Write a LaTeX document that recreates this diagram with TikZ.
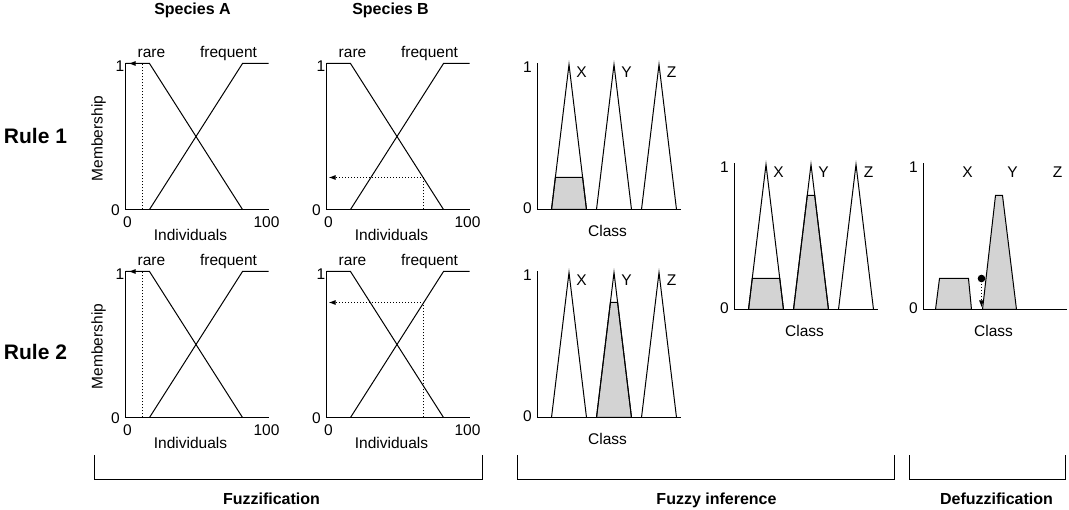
\documentclass[tikz,border=0pt]{standalone}
\usepackage{fontspec}
\setmainfont{Liberation Sans}
\usetikzlibrary{arrows.meta}
\definecolor{shadegray}{RGB}{211,211,211}
\tikzset{
  lbl/.style={inner sep=0pt, anchor=base, font=\fontsize{15.5}{18}\selectfont},
  title/.style={inner sep=0pt, anchor=base, font=\fontsize{16}{19}\selectfont\bfseries},
  rulelbl/.style={inner sep=0pt, anchor=base, font=\fontsize{21}{24}\selectfont\bfseries},
  axisline/.style={line width=1.2pt, line join=miter},
  curve/.style={line width=1pt, line join=miter},
  dotline/.style={line width=1pt, dash pattern=on 1pt off 2pt},
  tip/.style={-{Latex[length=7pt,width=5pt]}},
  shaded/.style={fill=shadegray, draw=black, line width=1pt, line join=miter},
  bracket/.style={line width=1.2pt, line join=miter},
  fuzz/.pic={
    \draw[axisline] (0,0) coordinate (-top) -- (0,146) coordinate (-orig) -- (143,146) coordinate (-end);
    \draw[curve] (0,0) -- (24,0) -- (117,146);
    \draw[curve] (24,146) -- (117,0) -- (143,0);
    \node[lbl] (-one) at (-5.5,8) {1};
    \node[lbl] (-zero) at (-10,152) {0};
    \node[lbl] (-xzero) at (2,164) {0};
    \node[lbl] (-xhund) at (141,164) {100};
    \node[lbl] (-xlab) at (65,177) {Individuals};
    \node[lbl] (-rare) at (26,-6) {rare};
    \node[lbl] (-freq) at (103,-6) {frequent};
  },
  classax/.pic={
    \draw[axisline] (0,-146) coordinate (-top) -- (0,0) coordinate (-orig) -- (143,0) coordinate (-end);
    \node[lbl] (-one) at (-10,-137) {1};
    \node[lbl] (-zero) at (-10,4) {0};
    \node[lbl] (-xlab) at (70,27) {Class};
    \node[lbl] (-X) at (44,-132) {X};
    \node[lbl] (-Y) at (89,-132) {Y};
    \node[lbl] (-Z) at (134,-132) {Z};
  },
  tris/.pic={
    \draw[curve] (14,0) -- (31.5,-145) -- (49,0);
    \draw[curve] (59,0) -- (76.5,-145) -- (94,0);
    \draw[curve] (104,0) -- (121.5,-145) -- (139,0);
  }
}
\begin{document}
\begin{tikzpicture}[x=1pt,y=-1pt]
\path[use as bounding box] (0,0) rectangle (1069,510);
\begin{scope}[shift={(0.5,0.5)}]

% titles
\node[title] (spA) at (192,14) {Species A};
\node[title] (spB) at (390,14) {Species B};
\node[rulelbl] (r1) at (35,143) {Rule 1};
\node[rulelbl] (r2) at (35,359) {Rule 2};
\node[lbl, anchor=center, rotate=90] (mem1) at (98,138) {Membership};
\node[lbl, anchor=center, rotate=90] (mem2) at (98,346) {Membership};

% fuzzification panels
\pic (A1) at (125,63) {fuzz};
\pic (B1) at (326,63) {fuzz};
\pic (A2) at (125,271) {fuzz};
\pic (B2) at (326,271) {fuzz};

% fuzzification readings
\coordinate (a1b) at (142,209);
\coordinate (a1t) at (142,63);
\coordinate (a1e) at (128,63);
\draw[dotline] (a1b) -- (a1t);
\draw[tip, line width=1pt] (a1t) -- (a1e);

\coordinate (b1b) at (423,209);
\coordinate (b1t) at (423,177);
\coordinate (b1e) at (328,177);
\draw[dotline] (b1b) -- (b1t);
\draw[dotline, tip] (b1t) -- (b1e);

\coordinate (a2b) at (142,417);
\coordinate (a2t) at (142,271);
\coordinate (a2e) at (128,271);
\draw[dotline] (a2b) -- (a2t);
\draw[tip, line width=1pt] (a2t) -- (a2e);

\coordinate (b2b) at (423,417);
\coordinate (b2t) at (423,302);
\coordinate (b2e) at (328,302);
\draw[dotline] (b2b) -- (b2t);
\draw[dotline, tip] (b2t) -- (b2e);

% inference rule 1
\begin{scope}[shift={(537,209)}]
  \filldraw[shaded] (14,0) -- (17.86,-32) -- (45.14,-32) -- (49,0) -- cycle;
\end{scope}
\pic (C1) at (537,209) {classax};
\pic (T1) at (537,209) {tris};

% inference rule 2
\begin{scope}[shift={(537,417)}]
  \filldraw[shaded] (59,0) -- (72.88,-115) -- (80.12,-115) -- (94,0) -- cycle;
\end{scope}
\pic (C2) at (537,417) {classax};
\pic (T2) at (537,417) {tris};

% aggregation
\begin{scope}[shift={(734,309)}]
  \filldraw[shaded] (14,0) -- (17.74,-31) -- (45.26,-31) -- (49,0) -- cycle;
  \filldraw[shaded] (59,0) -- (72.76,-114) -- (80.24,-114) -- (94,0) -- cycle;
\end{scope}
\pic (C3) at (734,309) {classax};
\pic (T3) at (734,309) {tris};

% defuzzification
\begin{scope}[shift={(923,309)}]
  \filldraw[shaded] (12,0) -- (16,-31) -- (45,-31) -- (48,0) -- cycle;
  \filldraw[shaded] (59,0) -- (72,-114) -- (79,-114) -- (93,0) -- cycle;
  \coordinate (cent) at (58,-31);
  \coordinate (centb) at (58,-2);
\end{scope}
\pic (C4) at (923,309) {classax};
\draw[dotline, tip] (cent) -- (centb);
\fill (cent) circle (3.8);

% brackets
\coordinate (b1a) at (94,455);
\coordinate (b1c) at (482,455);
\draw[bracket] (b1a) -- (94,479) -- (482,479) -- (b1c);
\coordinate (b2a) at (517,455);
\coordinate (b2c) at (894,455);
\draw[bracket] (b2a) -- (517,479) -- (894,479) -- (b2c);
\coordinate (b3a) at (909,455);
\coordinate (b3c) at (1065,455);
\draw[bracket] (b3a) -- (909,479) -- (1065,479) -- (b3c);

\node[title] (fz) at (271,504) {Fuzzification};
\node[title] (fi) at (716,504) {Fuzzy inference};
\node[title] (dz) at (996,504) {Defuzzification};
\end{scope}
\end{tikzpicture}
\end{document}
